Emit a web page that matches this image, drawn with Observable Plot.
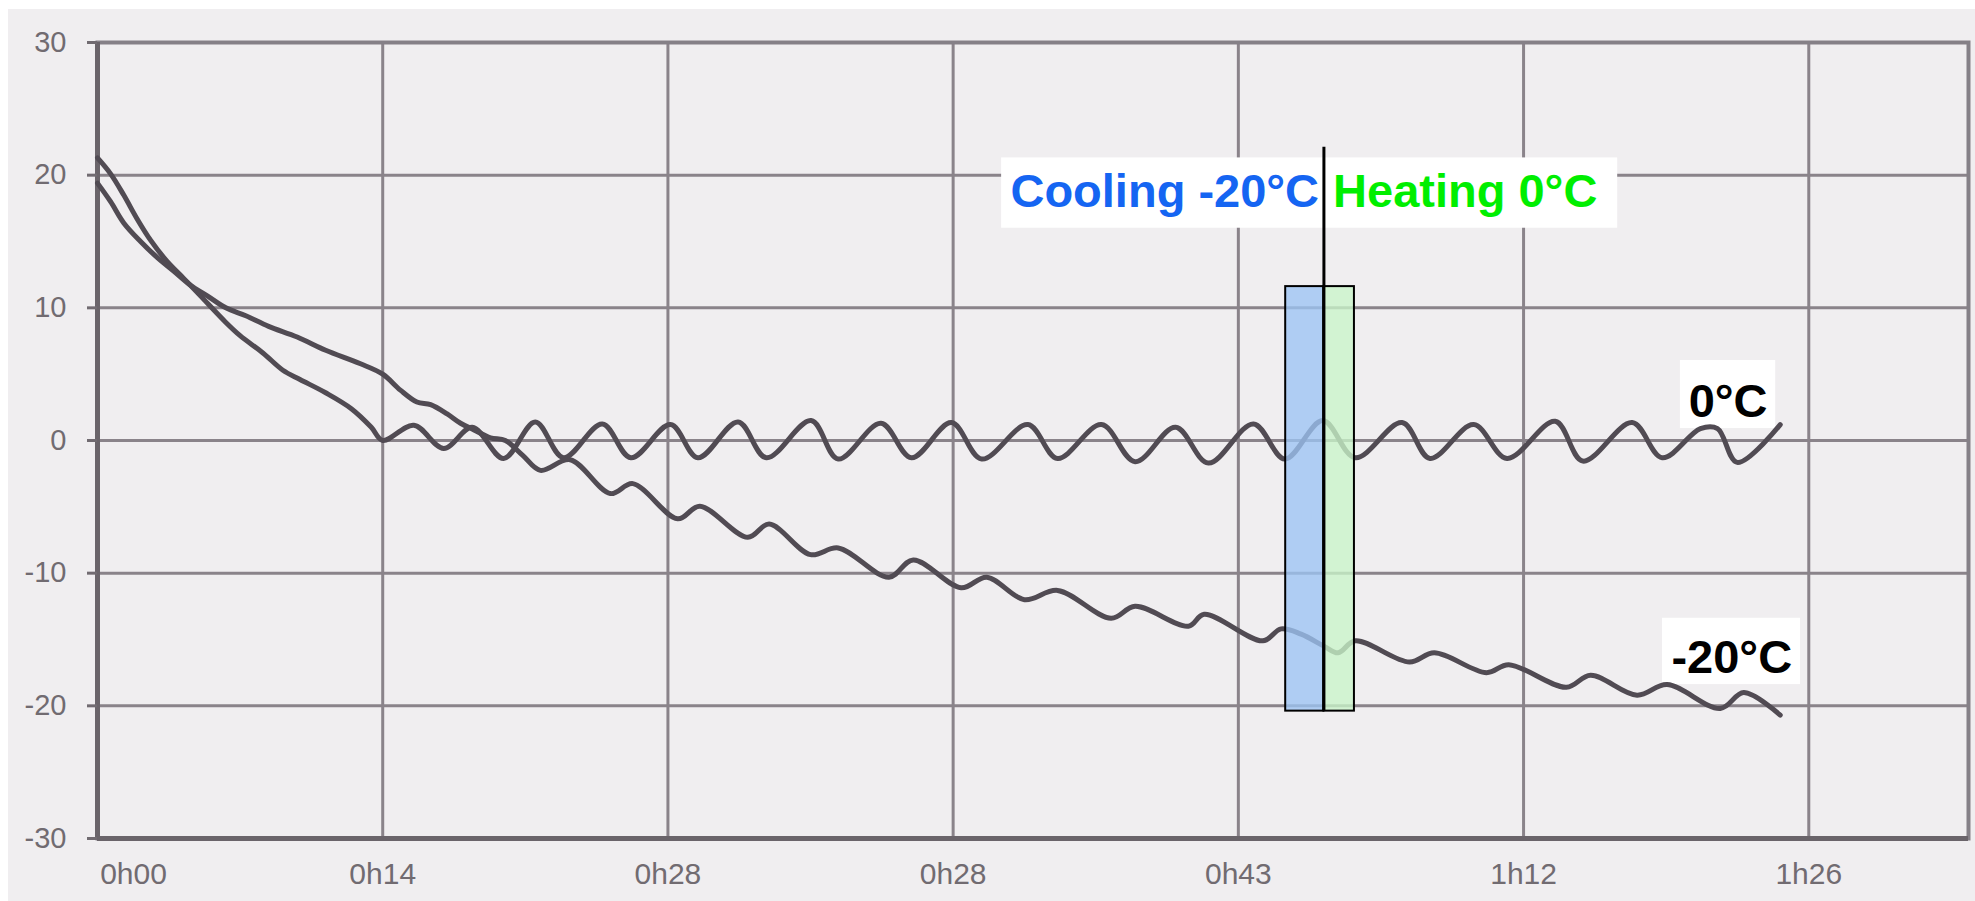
<!DOCTYPE html>
<html>
<head>
<meta charset="utf-8">
<script src="https://cdn.jsdelivr.net/npm/d3@7"></script>
<script src="https://cdn.jsdelivr.net/npm/@observablehq/plot@0.6"></script>
<style>
html, body { margin: 0; padding: 0; background: #ffffff; width: 1975px; height: 901px; overflow: hidden; }
#paper { position: absolute; left: 8px; top: 9px; width: 1967px; height: 892px; background: #f0eef0; }
#chart { position: absolute; left: 0; top: 0; }
</style>
</head>
<body>
<div id="paper"></div>
<div id="chart"></div>
<script>
// ---- axis ticks (x in grid units, labels as printed) ----
const xTicks = [0, 1, 2, 3, 4, 5, 6];
const xLabels = ["0h00", "0h14", "0h28", "0h28", "0h43", "1h12", "1h26"];
const xMax = 6.56;
const yTicks = [-30, -20, -10, 0, 10, 20, 30];

// ---- series "0°C" ----
const zeroTime = [0, 0.046, 0.092, 0.139, 0.186, 0.244, 0.303, 0.361, 0.45, 0.5, 0.58, 0.65, 0.71, 0.8, 0.89, 0.96, 1.0,
  1.109, 1.214, 1.314, 1.424, 1.535, 1.634, 1.77, 1.87, 2.009, 2.105, 2.246, 2.345, 2.502, 2.597, 2.747, 2.854,
  2.994, 3.10, 3.262, 3.366, 3.52, 3.638, 3.78, 3.895, 4.053, 4.163, 4.296, 4.41, 4.574, 4.672, 4.825, 4.942,
  5.111, 5.208, 5.381, 5.486, 5.62, 5.68, 5.749, 5.9];
const zeroTemp = [21.3, 20.1, 18.5, 16.7, 15.1, 13.5, 12.2, 10.9, 8.9, 7.9, 6.6, 5.3, 4.6, 3.6, 2.4, 1.0, 0.0,
  1.15, -0.6, 1.0, -1.35, 1.4, -1.3, 1.25, -1.3, 1.2, -1.3, 1.4, -1.3, 1.5, -1.4, 1.3, -1.3,
  1.35, -1.4, 1.2, -1.35, 1.2, -1.6, 1.0, -1.7, 1.25, -1.4, 1.5, -1.3, 1.35, -1.35, 1.2, -1.35,
  1.45, -1.55, 1.35, -1.3, 0.9, 0.9, -1.65, 1.2];

// ---- series "-20°C" ----
const minusTime = [0, 0.046, 0.092, 0.151, 0.209, 0.268, 0.326, 0.385, 0.45, 0.52, 0.6, 0.7, 0.8, 0.92, 1.0,
  1.062, 1.12, 1.168, 1.226, 1.273, 1.32, 1.378, 1.43, 1.49, 1.553, 1.657, 1.798, 1.877, 2.034, 2.112,
  2.28, 2.355, 2.50, 2.597, 2.775, 2.86, 3.028, 3.118, 3.25, 3.366, 3.554, 3.638, 3.825, 3.88, 4.086, 4.15,
  4.22, 4.3, 4.35, 4.41, 4.6, 4.687, 4.87, 4.948, 5.15, 5.235, 5.398, 5.503, 5.69, 5.772, 5.9];
const minusTemp = [19.4, 18.0, 16.4, 15.0, 13.8, 12.75, 11.7, 10.9, 10.0, 9.4, 8.6, 7.8, 6.8, 5.8, 5.0,
  3.8, 2.9, 2.7, 2.0, 1.3, 0.8, 0.2, 0.0, -1.1, -2.25, -1.45, -4.0, -3.25, -5.9, -4.95,
  -7.3, -6.3, -8.6, -8.1, -10.3, -9.0, -11.1, -10.3, -12.0, -11.3, -13.4, -12.5, -14.0, -13.1, -15.1, -14.2,
  -14.6, -15.5, -16.0, -15.1, -16.7, -16.0, -17.5, -16.9, -18.6, -17.7, -19.2, -18.4, -20.2, -19.0, -20.7];

// ---- annotations ----
const zoneNames = ["Cooling -20°C", "Heating 0°C"];
const zoneColors = ["#1565f2", "#00ee00"];
const zoneFills = ["#9cc4f4", "#c9f5c9"];
const zoneStart = [4.166, 4.300];
const zoneEnd = [4.300, 4.407];
const zoneLow = -20.4, zoneHigh = 11.6;
const dividerTop = 22.1;
const zoneLabelX = [4.283, 4.332];
const zoneLabelY = 17.6;
const zoneLabelBoxX1 = [3.17, 4.30];
const zoneLabelBoxX2 = [4.30, 5.33];
const zoneLabelBoxY = [16.0, 21.3];

const seriesNames = ["0°C", "-20°C"];
const seriesLabelX = [5.717, 5.73];
const seriesLabelY = [1.8, -17.5];
const seriesBoxX1 = [5.55, 5.487];
const seriesBoxX2 = [5.884, 5.971];
const seriesBoxY1 = [0.9, -18.4];
const seriesBoxY2 = [6.03, -13.4];

// ---- tables ----
const rows = [
  ...zeroTime.map((t, i) => ({series: seriesNames[0], t, v: zeroTemp[i]})),
  ...minusTime.map((t, i) => ({series: seriesNames[1], t, v: minusTemp[i]}))
];
const zones = zoneNames.map((name, i) => ({name, x1: zoneStart[i], x2: zoneEnd[i], y1: zoneLow, y2: zoneHigh, fill: zoneFills[i]}));
const zoneLabels = zoneNames.map((name, i) => ({name, x: zoneLabelX[i], y: zoneLabelY, color: zoneColors[i],
  bx1: zoneLabelBoxX1[i], bx2: zoneLabelBoxX2[i]}));
const seriesLabels = seriesNames.map((name, i) => ({name, x: seriesLabelX[i], y: seriesLabelY[i],
  bx1: seriesBoxX1[i], bx2: seriesBoxX2[i], by1: seriesBoxY1[i], by2: seriesBoxY2[i]}));

const gridColor = "#8a838a";
const axisColor = "#6a646a";
const labelColor = "#716b71";
const lineColor = "#514b53";
const font = "'Liberation Sans', Arial, Helvetica, sans-serif";

const chart = Plot.plot({
  width: 1975,
  height: 901,
  marginLeft: 97,
  marginRight: 7,
  marginTop: 42,
  marginBottom: 63,
  x: {domain: [xTicks[0], xMax], axis: null},
  y: {domain: [yTicks[0], yTicks[yTicks.length - 1]], axis: null},
  style: {background: "transparent", fontFamily: font},
  marks: [
    Plot.gridY(yTicks, {stroke: gridColor, strokeOpacity: 1, strokeWidth: 3}),
    Plot.gridX(xTicks, {stroke: gridColor, strokeOpacity: 1, strokeWidth: 3}),
    Plot.frame({stroke: "#858087", strokeWidth: 4}),
    Plot.ruleX([xTicks[0]], {stroke: axisColor, strokeWidth: 5}),
    Plot.ruleY([yTicks[0]], {stroke: axisColor, strokeWidth: 5}),
    Plot.axisY(yTicks, {anchor: "left", tickSize: 10, tickPadding: 21, strokeWidth: 3,
      tickFormat: d => `${d}`, fontSize: 29, color: labelColor}),
    Plot.axisX(xTicks.slice(1), {anchor: "bottom", tickSize: 0, tickPadding: 24,
      tickFormat: d => xLabels[d], fontSize: 30, color: labelColor}),
    Plot.axisX([xTicks[0]], {anchor: "bottom", tickSize: 0, tickPadding: 24, dx: 36,
      tickFormat: d => xLabels[d], fontSize: 30, color: labelColor}),
    // label backgrounds
    Plot.rect(zoneLabels, {x1: "bx1", x2: "bx2", y1: zoneLabelBoxY[0], y2: zoneLabelBoxY[1], fill: "white"}),
    Plot.rect(seriesLabels, {x1: "bx1", x2: "bx2", y1: "by1", y2: "by2", fill: "white"}),
    // curves
    Plot.line(rows, {x: "t", y: "v", z: "series", curve: "catmull-rom",
      stroke: lineColor, strokeWidth: 5, strokeLinejoin: "round", strokeLinecap: "round"}),
    // highlight zones
    Plot.rect(zones.slice(0, 1), {x1: "x1", x2: "x2", y1: "y1", y2: "y2", fill: zoneFills[0], fillOpacity: 0.78,
      stroke: "black", strokeWidth: 2}),
    Plot.rect(zones.slice(1), {x1: "x1", x2: "x2", y1: "y1", y2: "y2", fill: zoneFills[1], fillOpacity: 0.78,
      stroke: "black", strokeWidth: 2}),
    Plot.ruleX([zoneEnd[0]], {y1: zoneLow, y2: dividerTop, stroke: "black", strokeWidth: 3}),
    // texts
    Plot.text(zoneLabels.slice(0, 1), {x: "x", y: "y", text: "name", textAnchor: "end", lineAnchor: "bottom",
      fill: zoneColors[0], fontSize: 47, fontWeight: "bold"}),
    Plot.text(zoneLabels.slice(1), {x: "x", y: "y", text: "name", textAnchor: "start", lineAnchor: "bottom",
      fill: zoneColors[1], fontSize: 47, fontWeight: "bold"}),
    Plot.text(seriesLabels, {x: "x", y: "y", text: "name", textAnchor: "middle", lineAnchor: "bottom",
      fill: "black", fontSize: 47, fontWeight: "bold"})
  ]
});
document.getElementById("chart").appendChild(chart);
</script>
</body>
</html>
